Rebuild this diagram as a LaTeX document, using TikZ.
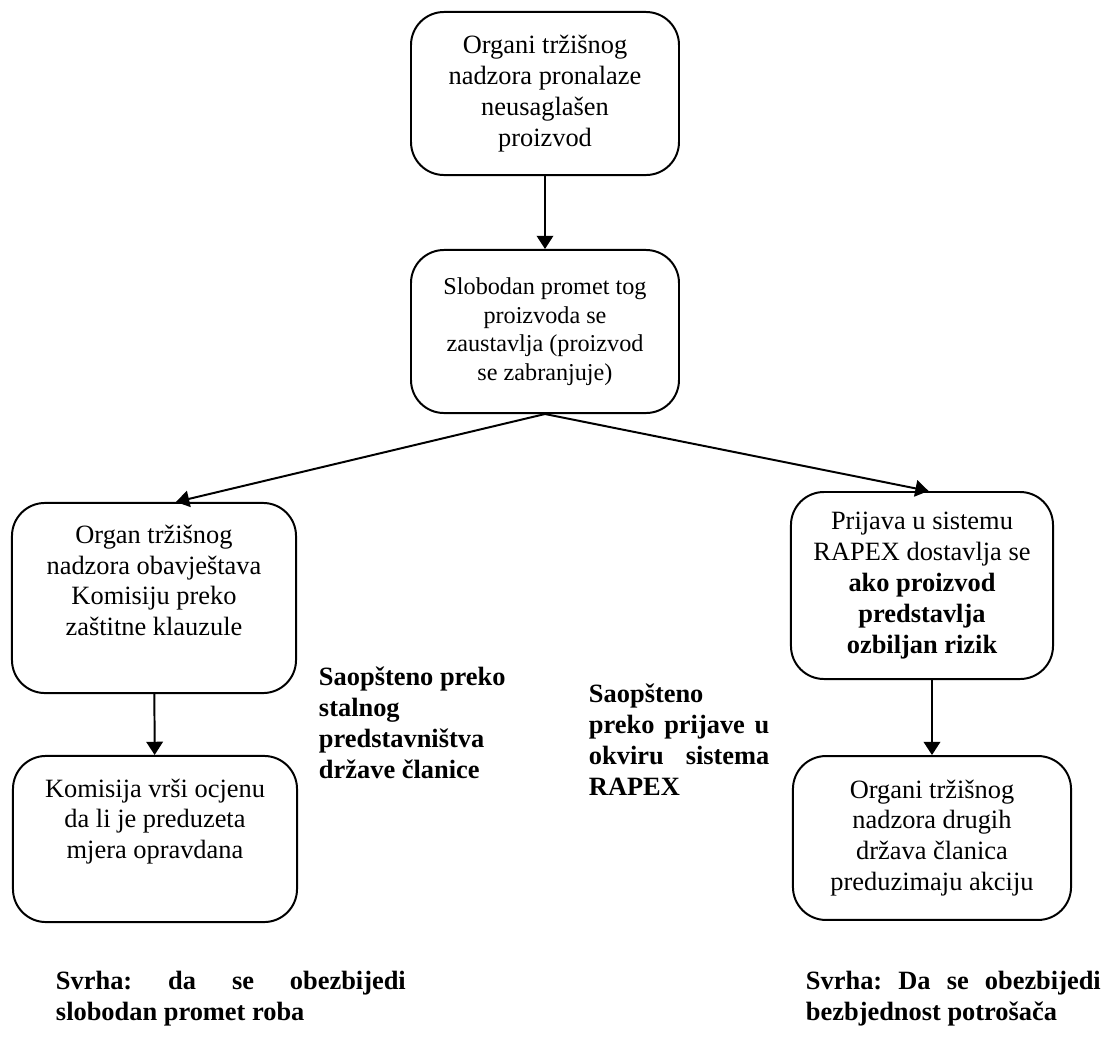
\documentclass[tikz,border=0pt]{standalone}
\usepackage{fontspec}
\setmainfont{Liberation Serif}
\usetikzlibrary{arrows.meta, positioning}

\begin{document}
\begin{tikzpicture}[x=0.4545pt, y=-0.4545pt, line width=0.9pt,
  >={Triangle[length=6pt, width=7.5pt]},
  korak/.style={draw, rounded corners=15pt, align=center, inner sep=0pt,
                font=\fontsize{12}{14}\selectfont},
  napomena/.style={inner sep=0pt, align=left, anchor=north west,
                   font=\fontsize{12}{14}\selectfont\bfseries}]
  \useasboundingbox (0,0) rectangle (1116,1038);

  % Top of the chain
  \node[korak, minimum width=121.8pt, minimum height=74.1pt] (nalaz) at (545,93.5)
    {Organi tržišnog\\nadzora pronalaze\\neusaglašen\\proizvod};
  \node[korak, minimum width=121.8pt, minimum height=74.1pt,
        font=\fontsize{11}{13}\selectfont] (zabrana) at (545,331.5)
    {Slobodan promet tog\\proizvoda se\\zaustavlja (proizvod\\se zabranjuje)};

  % Left branch: safeguard clause
  \node[korak, minimum width=129.1pt, minimum height=86.4pt] (klauzula) at (154,598)
    {Organ tržišnog\\nadzora obavještava\\Komisiju preko\\zaštitne klauzule\\[2pt]\mbox{}};
  \node[korak, minimum width=129.1pt, minimum height=75.5pt] (ocjena) at (155,839)
    {Komisija vrši ocjenu\\da li je preduzeta\\mjera opravdana\\[4.5pt]\mbox{}};

  % Right branch: RAPEX
  \node[korak, minimum width=119.1pt, minimum height=85pt] (rapex) at (922,585.5)
    {Prijava u sistemu\\RAPEX dostavlja se\\\textbf{ako proizvod}\\\textbf{predstavlja}\\\textbf{ozbiljan rizik}};
  \node[korak, minimum width=126.4pt, minimum height=74.5pt] (akcija) at (932,838)
    {Organi tržišnog\\nadzora drugih\\država članica\\preduzimaju akciju};

  % Arrows
  \draw[->] (nalaz) -- (zabrana);
  \draw[->] (zabrana.south) -- ([xshift=10pt]klauzula.north);
  \draw[->] (zabrana.south) -- ([xshift=3pt]rapex.north);
  \draw[->] (klauzula) -- (ocjena);
  \draw[->] (akcija.north |- rapex.south) -- (akcija.north);

  % Side notes
  \node[napomena] (stalno) at (318,666)
    {Saopšteno preko\\stalnog\\predstavništva\\države članice};
  \node[napomena] (prijava) at (588,683)
    {Saopšteno\\\makebox[82pt]{preko\hfill prijave\hfill u}\\\makebox[82pt]{okviru\hfill sistema}\\RAPEX};

  % Purpose
  \node[napomena] (svrhal) at (55,970)
    {\makebox[159pt]{Svrha:\hfill da\hfill se\hfill obezbijedi}\\slobodan promet roba};
  \node[napomena] (svrhad) at (805,970)
    {\makebox[134pt]{Svrha:\hfill Da\hfill se\hfill obezbijedi}\\bezbjednost potrošača};
\end{tikzpicture}
\end{document}
